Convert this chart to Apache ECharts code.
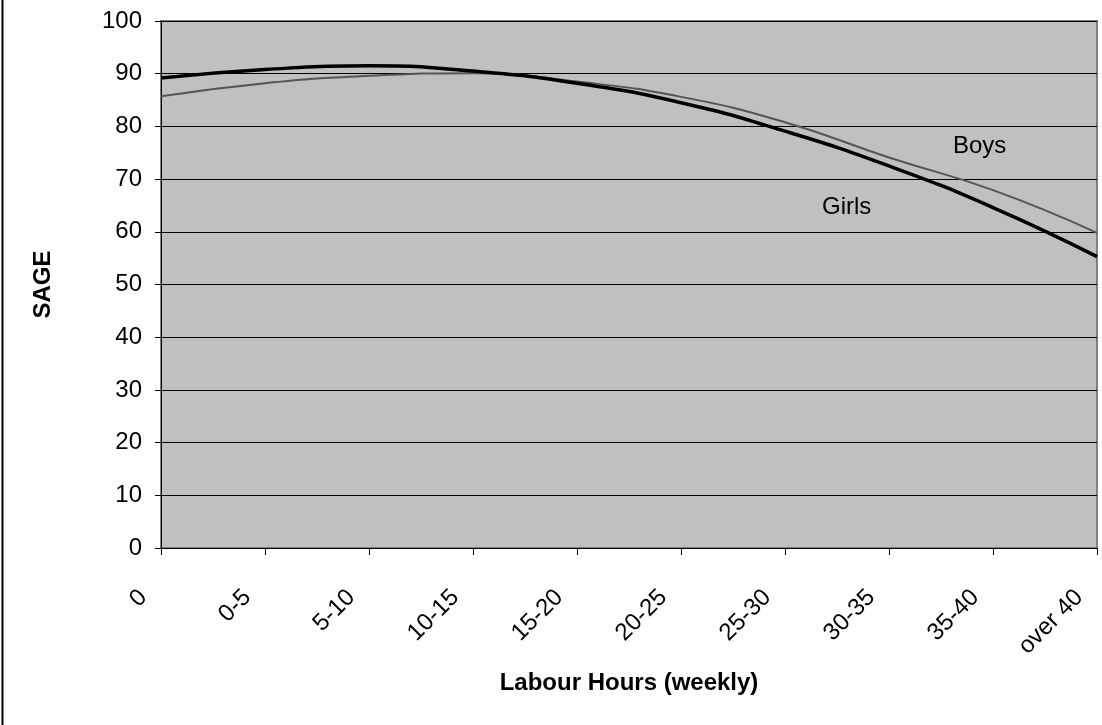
<!DOCTYPE html>
<html>
<head>
<meta charset="utf-8">
<script src="https://cdn.jsdelivr.net/npm/echarts@6/dist/echarts.min.js"></script>
<style>
html,body{margin:0;padding:0;background:#fff;}
#chart{width:1102px;height:725px;}
</style>
</head>
<body>
<div id="chart"></div>
<script>
const categories = ['0', '0-5', '5-10', '10-15', '15-20', '20-25', '25-30', '30-35', '35-40', 'over 40'];
const girls = [89.2, 90.8, 91.5, 90.5, 88.2, 84.5, 79.1, 72.5, 64.6, 55.3];
const boys = [85.7, 88.2, 89.6, 90.1, 88.5, 85.6, 80.8, 74.1, 67.9, 59.8];
const yTicks = [0, 10, 20, 30, 40, 50, 60, 70, 80, 90, 100];

const FONT = '"Liberation Sans", Arial, sans-serif';
const chart = echarts.init(document.getElementById('chart'), null, {renderer: 'canvas'});
chart.setOption({
  animation: false,
  backgroundColor: '#ffffff',
  textStyle: {fontFamily: FONT},
  grid: {
    left: 161, right: 5, top: 21, bottom: 177,
    show: true, backgroundColor: '#C0C0C0', borderColor: '#808080', borderWidth: 2
  },
  xAxis: {
    type: 'category',
    data: categories,
    boundaryGap: false,
    name: 'Labour Hours (weekly)',
    nameLocation: 'middle',
    nameGap: 123,
    nameTextStyle: {fontFamily: FONT, fontSize: 24, fontWeight: 'bold', color: '#000'},
    axisLine: {lineStyle: {color: '#000', width: 1}},
    axisTick: {show: true, length: 7, alignWithLabel: true, lineStyle: {color: '#000'}},
    axisLabel: {
      rotate: 45, margin: 28, interval: 0,
      padding: [0, 25, 0, 0],
      fontFamily: FONT, fontSize: 24, color: '#000'
    },
    splitLine: {show: false}
  },
  yAxis: {
    type: 'value',
    min: 0, max: 100, interval: 10,
    name: 'SAGE',
    nameLocation: 'middle',
    nameGap: 106,
    nameRotate: 90,
    nameTextStyle: {fontFamily: FONT, fontSize: 24, fontWeight: 'bold', color: '#000'},
    axisLine: {show: true, lineStyle: {color: '#000', width: 1}},
    axisTick: {show: true, length: 6, lineStyle: {color: '#000'}},
    axisLabel: {
      margin: 19, fontFamily: FONT, fontSize: 24, color: '#000',
      formatter: function (v) { return yTicks.indexOf(v) >= 0 ? String(v) : ''; }
    },
    splitLine: {show: true, lineStyle: {color: '#000', width: 1}}
  },
  series: [
    {
      name: 'Boys', type: 'line', data: boys, smooth: true,
      symbol: 'none', lineStyle: {color: '#555555', width: 2}, z: 2
    },
    {
      name: 'Girls', type: 'line', data: girls, smooth: true,
      symbol: 'none', lineStyle: {color: '#000000', width: 3.5}, z: 3
    }
  ],
  graphic: [
    {type: 'text', left: 953, top: 134, style: {text: 'Boys', font: '24px ' + FONT, fill: '#000'}},
    {type: 'text', left: 822, top: 195, style: {text: 'Girls', font: '24px ' + FONT, fill: '#000'}},
    {type: 'line', shape: {x1: 2.5, y1: 0, x2: 2.5, y2: 725}, style: {stroke: '#000', lineWidth: 2}}
  ]
});
</script>
</body>
</html>
